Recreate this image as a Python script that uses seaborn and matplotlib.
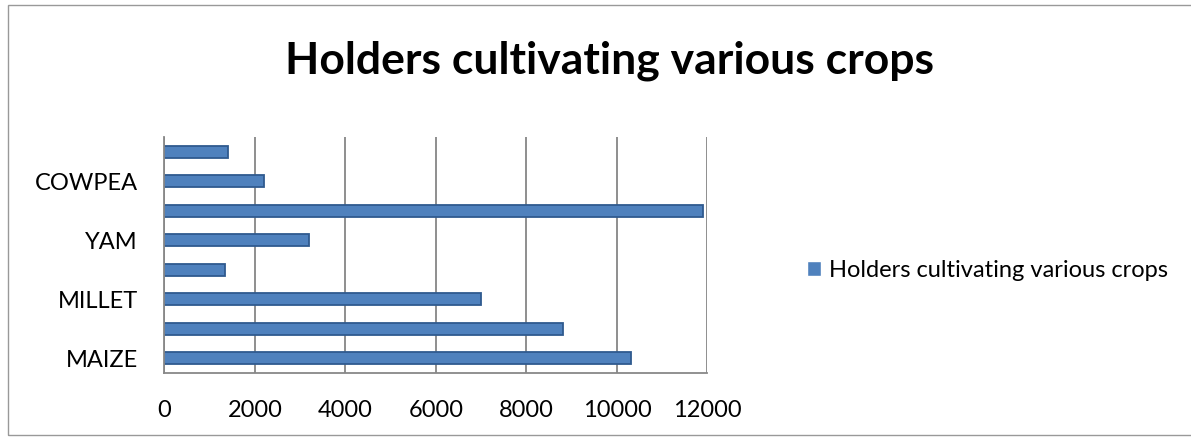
import matplotlib
matplotlib.use("Agg")
import matplotlib.pyplot as plt
import seaborn as sns
import pandas as pd
from matplotlib.patches import Rectangle

# crops listed bottom to top as in the chart
crops = ["MAIZE", "SORGHUM", "MILLET", "RICE", "YAM", "CASSAVA", "COWPEA", "GROUNDNUT"]
holders = [10300, 8800, 7000, 1350, 3200, 11900, 2200, 1400]
shown_labels = ["MAIZE", "", "MILLET", "", "YAM", "", "COWPEA", ""]
x_ticks = [0, 2000, 4000, 6000, 8000, 10000, 12000]

df = pd.DataFrame({"Crop": crops, "Holders": holders})

sns.set_theme(style="white")
plt.rcParams["font.family"] = ["Lato", "DejaVu Sans"]
plt.rcParams["text.color"] = "black"
plt.rcParams["xtick.color"] = "black"
plt.rcParams["ytick.color"] = "black"

fig = plt.figure(figsize=(11.91, 4.4), dpi=100)
ax = fig.add_axes([0.138, 0.152, 0.456, 0.537])

sns.barplot(data=df, x="Holders", y="Crop", order=crops[::-1], orient="h",
            color="#4F81BD", edgecolor="#2F5A8F", linewidth=1.3,
            width=0.4, saturation=1, ax=ax)

ax.set_xlim(0, 12000)
ax.set_ylim(len(crops) - 0.5, -0.5)
ax.set_xticks(x_ticks)
ax.set_xticklabels([str(t) for t in x_ticks], fontsize=17)
ax.set_yticks(range(len(crops)))
ax.set_yticklabels(shown_labels[::-1], fontsize=17)
ax.tick_params(axis="y", length=0, pad=19)
ax.set_yticks([i - 0.5 for i in range(len(crops) + 1)], minor=True)
ax.tick_params(axis="y", which="minor", length=6, color="#888888", width=1.2)
ax.tick_params(axis="x", length=6, color="#888888", width=1.2, direction="out", pad=13)
ax.set_xlabel("")
ax.set_ylabel("")

ax.grid(axis="x", color="#868686", linewidth=1.3)
ax.set_axisbelow(True)
for side in ["top", "right"]:
    ax.spines[side].set_visible(False)
for side in ["left", "bottom"]:
    ax.spines[side].set_color("#888888")
    ax.spines[side].set_linewidth(1.3)

handle = Rectangle((0, 0), 1, 1, facecolor="#4F81BD")
fig.legend([handle], ["Holders cultivating various crops"], loc="center left",
           bbox_to_anchor=(0.66, 0.386), frameon=False, fontsize=17,
           handlelength=0.6, handleheight=0.6, handletextpad=0.3)

fig.text(0.512, 0.862, "Holders cultivating various crops", ha="center", va="center",
         fontsize=32, fontweight="bold", color="black")

fig.patches.append(Rectangle((0.007, 0.011), 1.0, 0.978, transform=fig.transFigure,
                             fill=False, edgecolor="#999999", linewidth=1))

fig.savefig("out.png", dpi=100)
